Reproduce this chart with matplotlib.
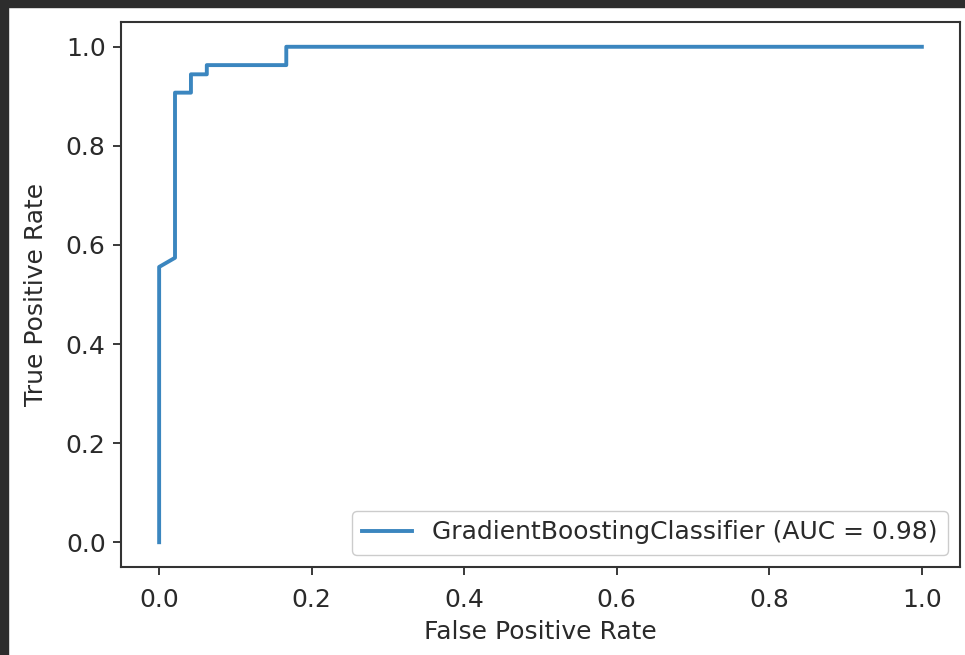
import matplotlib
matplotlib.use("Agg")
import matplotlib.pyplot as plt
from matplotlib.patches import Rectangle

# ROC curve points of the gradient boosting model
fpr = [0.0, 0.0, 0.0208, 0.0208, 0.0417, 0.0417, 0.0625, 0.0625, 0.1667, 0.1667, 1.0]
tpr = [0.0, 0.5556, 0.5741, 0.9074, 0.9074, 0.9444, 0.9444, 0.9630, 0.9630, 1.0, 1.0]
auc = 0.98
model_name = "GradientBoostingClassifier"

W, H = 965, 655
fig = plt.figure(figsize=(W / 100, H / 100), dpi=100)
fig.patch.set_facecolor("white")

# dark window frame along the top and left edges
fig.patches.append(Rectangle((0, 1 - 7 / H), 1, 7 / H, transform=fig.transFigure,
                             color="#2d2d2d", zorder=0))
fig.patches.append(Rectangle((0, 0), 8 / W, 1, transform=fig.transFigure,
                             color="#2d2d2d", zorder=0))

ax = fig.add_axes([121 / W, 1 - 567 / H, (960 - 121) / W, (567 - 22) / H])
ax.plot(fpr, tpr, color="#3b86bf", lw=2.8,
        label=f"{model_name} (AUC = {auc:.2f})")

fs = 18
ax.set_xlim(-0.05, 1.05)
ax.set_ylim(-0.05, 1.05)
ax.set_xticks([0.0, 0.2, 0.4, 0.6, 0.8, 1.0])
ax.set_yticks([0.0, 0.2, 0.4, 0.6, 0.8, 1.0])
ax.tick_params(labelsize=fs, length=6, width=1.3, pad=5, colors="#2a2a2a")
ax.tick_params(axis="x", pad=9)
for s in ax.spines.values():
    s.set_linewidth(1.5)
    s.set_color("#333333")

ax.set_xlabel("False Positive Rate", fontsize=fs, color="#2a2a2a", labelpad=6)
ax.set_ylabel("True Positive Rate", fontsize=fs, color="#2a2a2a", labelpad=13)

leg = ax.legend(loc="lower right", fontsize=fs, handlelength=2.0,
                borderpad=0.4, borderaxespad=0.5, framealpha=1.0)
leg.get_frame().set_edgecolor("#cccccc")
for t in leg.get_texts():
    t.set_color("#2a2a2a")

fig.savefig("out.png", dpi=100)
